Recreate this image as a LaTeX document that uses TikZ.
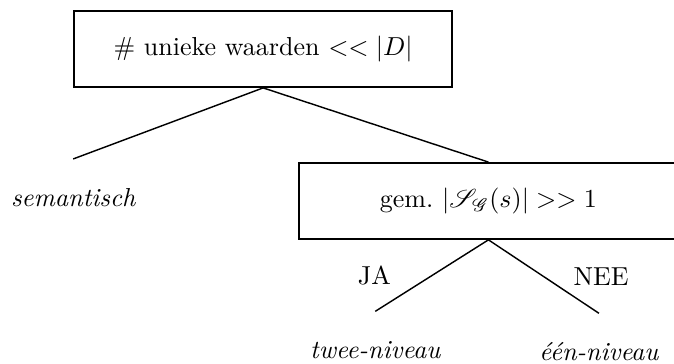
\documentclass[tikz,border=0pt]{standalone}
\usepackage{fontspec}
\usepackage{mathrsfs}
\usetikzlibrary{positioning}

\begin{document}
\begin{tikzpicture}[
        parent anchor=south, child anchor=north, % takken van onderkant naar bovenkant
        edge from parent/.style = {draw, line width=0.55pt},
        vraag/.style={draw, line width=0.7pt, minimum width=145.4pt, minimum height=29.2pt}, % vraagknopen
        blad/.style={minimum height=29.2pt, font=\itshape}, % uitkomsten
        antw/.style={text width=1.3cm, text centered},
    ]
    \useasboundingbox (-101.2pt,18.85pt) rectangle (158pt,-120.75pt);

    \node[vraag] (uniek) {\# unieke waarden $<< |D|$}
    child[grow=218.8, level distance=92.7pt] {node[blad] (sem) {semantisch}}
    child[grow=326.25, level distance=104.5pt] {node[vraag] (gem) {gem.\ $|\mathscr{S}_{\mathscr{G}}(s)| >> 1$}
            child[grow=233.4, level distance=72.3pt] {node[blad, yshift=0.5pt] (twee) {twee-niveau}
                    edge from parent node[antw, left] {JA}}
            child[grow=306.6, level distance=72.3pt] {node[blad, yshift=0.5pt] (een) {één-niveau}
                    edge from parent node[antw, right] {NEE}}};
\end{tikzpicture}
\end{document}
